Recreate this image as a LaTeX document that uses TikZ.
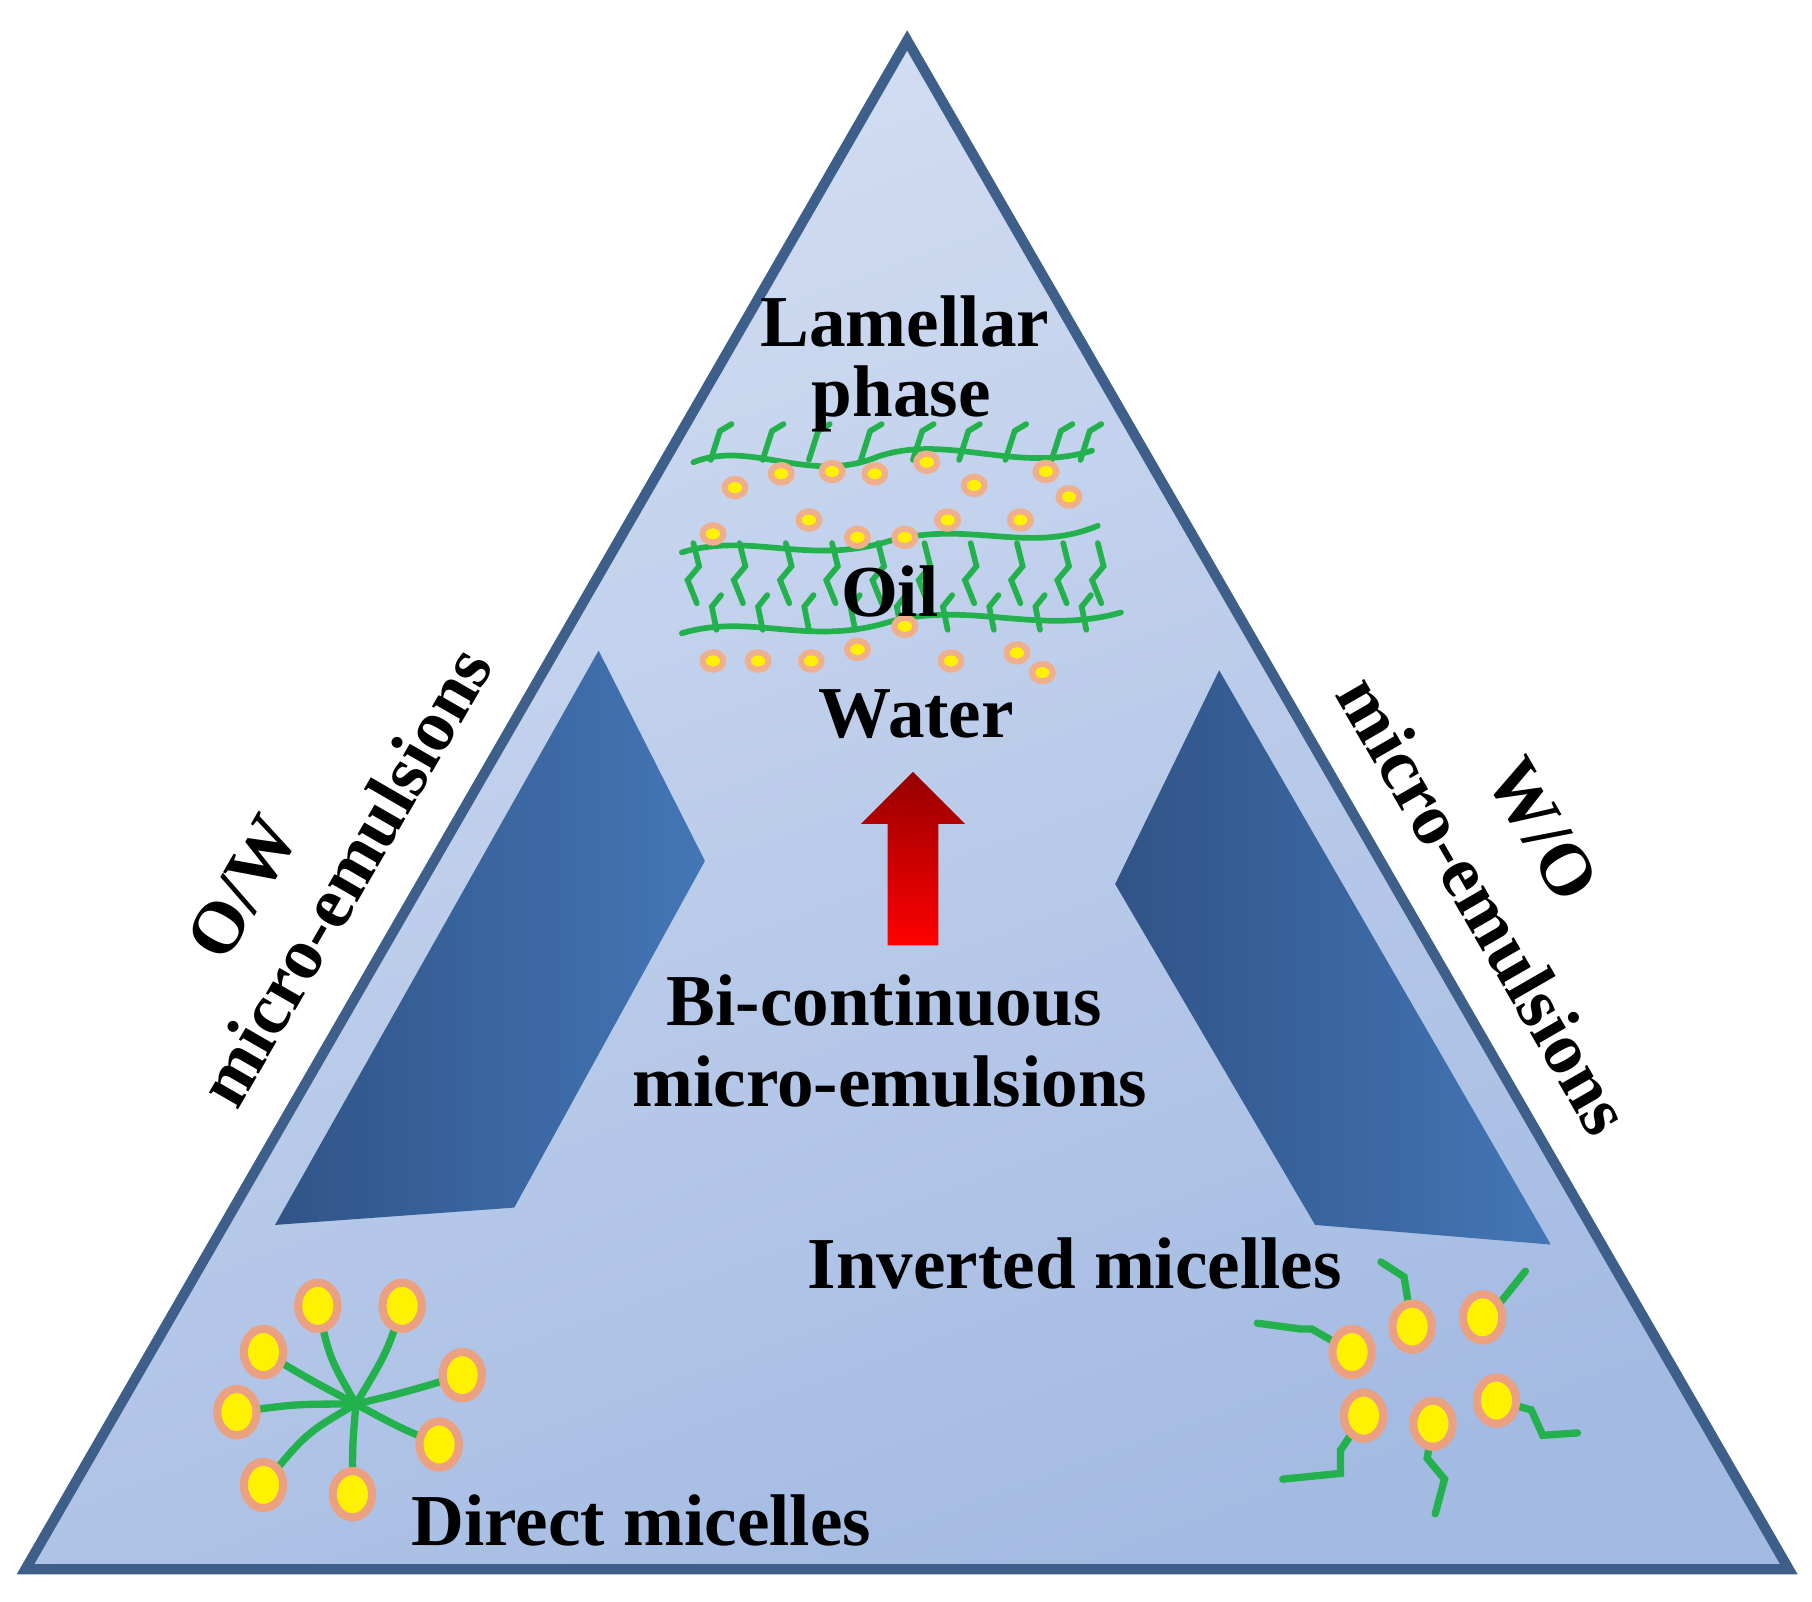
\documentclass[tikz,border=0pt]{standalone}
\usepackage{fontspec}
\setmainfont{Liberation Serif}
\begin{document}
\begin{tikzpicture}[x=0.01cm,y=-0.01cm,
  lbl/.style={font=\fontsize{18}{20}\selectfont\bfseries, align=center, inner sep=0pt},
  tail/.style={line width=1.8pt, line cap=round},
  thin tail/.style={line width=1.4pt, line cap=round},
  head/.style={ellipse, fill=yellow, draw={rgb,255:red,235;green,160;blue,130}, line width=2pt, minimum width=0.34cm, minimum height=0.40cm, inner sep=0pt},
  shead/.style={ellipse, fill=yellow, draw={rgb,255:red,240;green,175;blue,140}, line width=1.5pt, minimum width=0.18cm, minimum height=0.15cm, inner sep=0pt}]
\usetikzlibrary{shapes.geometric}
\definecolor{tailc}{HTML}{22B14C}
\definecolor{bgtop}{HTML}{D3DEF2}
\definecolor{bgbot}{HTML}{A3BAE2}
\useasboundingbox (0,0) rectangle (1568,1386);
\fill[white] (0,0) rectangle (1568,1386);
\coordinate (A) at (785,35); \coordinate (B) at (22,1358); \coordinate (C) at (1548,1358);
\shade[top color=bgtop, bottom color=bgbot, shading angle=20]
  (A) -- (B) -- (C) -- cycle;
\draw[line width=2.5pt, draw={rgb,255:red,61;green,95;blue,138}] (A) -- (B) -- (C) -- cycle;
% dark panels
\shade[left color={rgb,255:red,48;green,84;blue,135}, right color={rgb,255:red,68;green,118;blue,182}]
  (518,563) -- (610,745) -- (445,1045) -- (238,1060) -- cycle;
\shade[left color={rgb,255:red,48;green,84;blue,135}, right color={rgb,255:red,68;green,118;blue,182}]
  (1055,580) -- (965,765) -- (1138,1060) -- (1342,1077) -- cycle;
% red arrow
\shade[top color={rgb,255:red,150;green,0;blue,0}, bottom color=red]
  (790,668) -- (835,713) -- (812,713) -- (812,818) -- (768,818) -- (768,713) -- (745,713) -- cycle;
% lamellar
\begin{scope}[draw=tailc]
\draw[thin tail] (600,400) .. controls (650,380) and (700,420) .. (760,395) .. controls (820,375) and (880,410) .. (945,390);
\foreach \x in {615,660,700,745,790,830,870,910,935} \draw[thin tail] (\x,398) -- ++(8,-25) -- ++(10,-6);
\draw[thin tail] (590,478) .. controls (650,460) and (700,490) .. (770,468) .. controls (840,450) and (890,480) .. (950,455);
\draw[thin tail] (590,548) .. controls (650,530) and (700,560) .. (770,538) .. controls (840,520) and (900,550) .. (970,530);
\foreach \x in {600,640,680,720,760,800,840,880,920,950} \draw[thin tail] (\x,470) -- ++(5,20) -- ++(-10,12) -- ++(8,20);
\foreach \x in {620,660,700,740,780,820,860,900,940} \draw[thin tail] (\x,545) -- ++(-4,-20) -- ++(8,-10);
\end{scope}
\foreach \p in {(636,422),(676,410),(720,408),(757,410),(802,400),(843,420),(905,408),(925,430),
  (617,462),(700,450),(742,465),(783,465),(820,450),(883,450),
  (617,572),(656,572),(702,572),(742,562),(783,542),(823,572),(880,565),(902,582)}
  \node[shead] at \p {};
% direct micelles
\coordinate (dc) at (308,1215);
\foreach \p/\c in {(275,1130)/{(285,1175)},(348,1130)/{(335,1170)},(228,1170)/{(270,1195)},(400,1190)/{(350,1205)},(205,1222)/{(255,1215)},(380,1250)/{(345,1235)},(228,1285)/{(265,1240)},(305,1293)/{(305,1250)}}
  \draw[tail, draw=tailc] \p .. controls \c .. (dc);
\foreach \p in {(275,1130),(348,1130),(228,1170),(400,1190),(205,1222),(380,1250),(228,1285),(305,1293)}
  \node[head] at \p {};
% inverted micelles
\draw[tail, draw=tailc] (1170,1170) -- (1135,1150) -- (1125,1150) -- (1088,1145);
\draw[tail, draw=tailc] (1222,1148) -- (1215,1105) -- (1195,1092);
\draw[tail, draw=tailc] (1283,1140) -- (1300,1125) -- (1320,1100);
\draw[tail, draw=tailc] (1180,1225) -- (1160,1255) -- (1160,1275) -- (1110,1280);
\draw[tail, draw=tailc] (1240,1232) -- (1235,1262) -- (1250,1280) -- (1242,1310);
\draw[tail, draw=tailc] (1295,1212) -- (1325,1220) -- (1335,1242) -- (1365,1240);
\foreach \p in {(1170,1170),(1222,1148),(1283,1140),(1180,1225),(1240,1232),(1295,1212)}
  \node[head] at \p {};
% texts
\node[lbl] (lam) at (783,278) {Lamellar};
\node[lbl] (pha) at (780,345) {phase};
\node[lbl] (oil) at (770,512) {Oil};
\node[lbl] (wat) at (793,618) {Water};
\node[lbl] (bic) at (765,866) {Bi-continuous};
\node[lbl] (mic) at (770,936) {micro-emulsions};
\node[lbl] (inv) at (930,1093) {Inverted micelles};
\node[lbl] (dir) at (555,1316) {Direct micelles};
\node[lbl, rotate=60] (ow) at (210,768) {O/W};
\node[lbl, rotate=60] (owm) at (298,758) {micro-emulsions};
\node[lbl, rotate=-60] (wo) at (1335,718) {W/O};
\node[lbl, rotate=-60] (wom) at (1285,783) {micro-emulsions};
\end{tikzpicture}
\end{document}
